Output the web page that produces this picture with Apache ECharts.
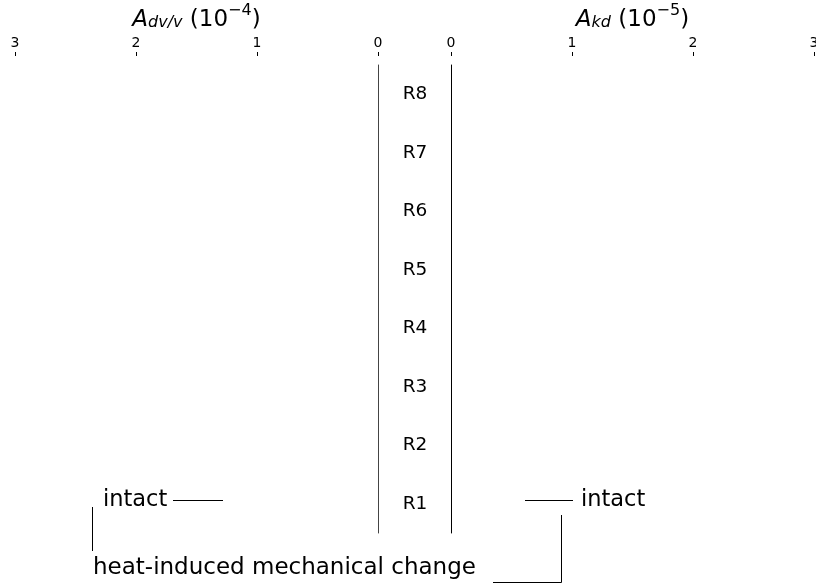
<!DOCTYPE html>
<html>
<head>
<meta charset="utf-8">
<script src="https://cdn.jsdelivr.net/npm/echarts@6/dist/echarts.min.js"></script>
<style>
html,body{margin:0;padding:0;background:#fff;}
#c{width:816px;height:585px;}
</style>
</head>
<body>
<div id="c"></div>
<script>
// Data
var categories = ['R1','R2','R3','R4','R5','R6','R7','R8'];
var leftValues = [0,0,0,0,0,0,0,0];   // A_dv/v (10^-4) - no visible bars
var rightValues = [0,0,0,0,0,0,0,0];  // A_kd (10^-5) - no visible bars
var xTicks = [0,1,2,3];

var FONT = 'DejaVu Sans';
var chart = echarts.init(document.getElementById('c'), null, {renderer:'canvas'});

function axisName(main, sub, exp){
  return '{a|' + main + '}{s|' + sub + '}{n| (10}{p|\u2212' + exp + '}{n|)}';
}
var nameRich = {
  a:{fontFamily:FONT,fontStyle:'italic',fontSize:23,color:'#000',verticalAlign:'bottom',lineHeight:28},
  s:{fontFamily:FONT,fontStyle:'italic',fontSize:16,color:'#000',verticalAlign:'bottom',lineHeight:22},
  n:{fontFamily:FONT,fontSize:23,color:'#000',verticalAlign:'bottom',lineHeight:28},
  p:{fontFamily:FONT,fontSize:16,color:'#000',verticalAlign:'top',lineHeight:24}
};

var xCommon = {
  type:'value', position:'top', min:0, max:3, interval:1, offset:9,
  axisLine:{show:false},
  axisTick:{show:true,length:4,lineStyle:{color:'#000',width:1}},
  axisLabel:{fontFamily:FONT,fontSize:14,color:'#000',margin:6},
  splitLine:{show:false},
  nameLocation:'middle', nameGap:24,
  nameTextStyle:{rich:nameRich}
};

var option = {
  animation:false,
  backgroundColor:'#fff',
  grid:[
    {left:15, right:816-378, top:65, bottom:52, containLabel:false, outerBoundsMode:'none'},
    {left:451, right:2, top:65, bottom:52, containLabel:false, outerBoundsMode:'none'}
  ],
  xAxis:[
    Object.assign({}, xCommon, {gridIndex:0, inverse:true, name:axisName('A','dv/v','4')}),
    Object.assign({}, xCommon, {gridIndex:1, name:axisName('A','kd','5')})
  ],
  yAxis:[
    {type:'category', gridIndex:0, data:categories, position:'right',
     axisLine:{show:true,lineStyle:{color:'#444',width:1}}, axisTick:{show:false},
     axisLabel:{fontFamily:FONT,fontSize:18.5,color:'#000',margin:37,align:'center'}},
    {type:'category', gridIndex:1, data:categories, position:'left',
     axisLine:{show:true,lineStyle:{color:'#000',width:1}}, axisTick:{show:false},
     axisLabel:{show:false}}
  ],
  series:[
    {type:'bar', xAxisIndex:0, yAxisIndex:0, data:leftValues, itemStyle:{color:'#4c72b0'}},
    {type:'bar', xAxisIndex:1, yAxisIndex:1, data:rightValues, itemStyle:{color:'#dd8452'}}
  ],
  graphic:[
    {type:'text', x:103, y:500, style:{text:'intact', font:'22.5px "DejaVu Sans"', fill:'#000', verticalAlign:'middle'}},
    {type:'line', shape:{x1:173,y1:500.5,x2:223,y2:500.5}, style:{stroke:'#000',lineWidth:1}},
    {type:'line', shape:{x1:525,y1:500.5,x2:573,y2:500.5}, style:{stroke:'#000',lineWidth:1}},
    {type:'text', x:581, y:500, style:{text:'intact', font:'22.5px "DejaVu Sans"', fill:'#000', verticalAlign:'middle'}},
    {type:'line', shape:{x1:92.5,y1:507,x2:92.5,y2:551}, style:{stroke:'#000',lineWidth:1}},
    {type:'text', x:93, y:568, style:{text:'heat-induced mechanical change', font:'23px "DejaVu Sans"', fill:'#000', verticalAlign:'middle'}},
    {type:'polyline', shape:{points:[[493,582.5],[561.5,582.5],[561.5,515]]}, style:{stroke:'#000',lineWidth:1,fill:null}}
  ]
};
chart.setOption(option);
</script>
</body>
</html>
